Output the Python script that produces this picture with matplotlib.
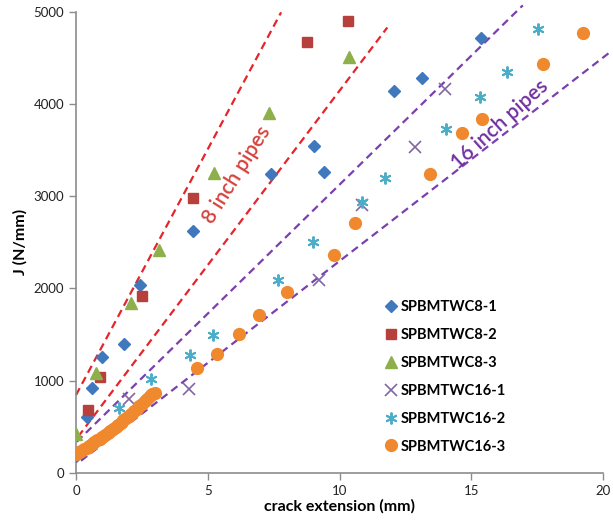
import numpy as np
import matplotlib
matplotlib.use('Agg')
import matplotlib.pyplot as plt

plt.rcParams['font.family'] = ['Lato', 'DejaVu Sans']

# data (crack extension mm, J N/mm)
c8_1_x = [0.0, 0.43, 0.6, 0.97, 1.83, 2.43, 4.45, 7.39, 9.04, 9.41, 12.07, 13.14, 15.37]
c8_1_y = [180, 604, 916, 1252, 1393, 2037, 2623, 3242, 3545, 3267, 4146, 4287, 4714]

c8_2_x = [0.47, 0.91, 2.5, 4.43, 8.78, 10.31]
c8_2_y = [685, 1042, 1917, 2978, 4674, 4905]

c8_3_x = [0.0, 0.76, 2.09, 3.16, 5.24, 7.34, 10.37]
c8_3_y = [420, 1079, 1845, 2417, 3256, 3907, 4508]

c16_1_x = [2.02, 4.3, 9.23, 10.84, 12.87, 13.98]
c16_1_y = [796, 914, 2091, 2905, 3538, 4171]

c16_2_x = [1.63, 2.83, 4.33, 5.21, 7.68, 9.0, 10.84, 11.73, 14.05, 15.33, 16.34, 17.52]
c16_2_y = [699, 1017, 1274, 1494, 2091, 2507, 2941, 3201, 3732, 4080, 4352, 4812]

c16_3_x = [0.0, 0.1, 0.2, 0.3, 0.4, 0.5, 0.6, 0.7, 0.8, 0.9, 1.0, 1.1, 1.2, 1.3, 1.4,
           1.5, 1.6, 1.7, 1.8, 1.9, 2.0, 2.1, 2.2, 2.3, 2.4, 2.5, 2.6, 2.7, 2.8, 2.9, 3.0,
           4.58, 5.34, 6.2, 6.96, 8.0, 9.79, 10.59, 13.43, 14.66, 15.4, 17.73, 19.23]
c16_3_y = [205, 220, 235, 252, 270, 290, 310, 330, 350, 371, 392, 413, 435, 456, 478,
           500, 522, 545, 568, 591, 615, 640, 665, 692, 720, 747, 775, 803, 830, 852, 870,
           1133, 1288, 1505, 1711, 1964, 2363, 2706, 3242, 3683, 3838, 4435, 4775]

# dashed guide lines: (x start, x end, intercept, slope)
red_lines = [(0.0, 7.78, 843, 534), (0.08, 11.81, 361, 378.7)]
purple_lines = [(0.03, 16.95, 328, 280), (0.19, 20.2, 88, 221)]

fig = plt.figure(figsize=(6.13, 5.21), dpi=100)
ax = fig.add_axes([0.124, 0.0927, 0.860, 0.884])

for x0, x1, b, m in red_lines:
    xs = np.array([x0, x1])
    ax.plot(xs, b + m * xs, color='#e5252b', lw=1.6, dashes=(3.5, 2.2), clip_on=False, zorder=2)
for x0, x1, b, m in purple_lines:
    xs = np.array([x0, x1])
    ax.plot(xs, b + m * xs, color='#7b3fb0', lw=1.6, dashes=(3.5, 2.2), clip_on=False, zorder=2)

ax.plot(c8_1_x, c8_1_y, 'D', color='#3f78bd', ms=6.5, mec='#3f78bd', label='SPBMTWC8-1', zorder=3)
ax.plot(c8_2_x, c8_2_y, 's', color='#b8403c', ms=7.5, label='SPBMTWC8-2', zorder=3)
ax.plot(c8_3_x, c8_3_y, '^', color='#8db04a', ms=8, label='SPBMTWC8-3', zorder=3)
ax.plot(c16_1_x, c16_1_y, 'x', color='#8166a6', ms=8, mew=1.2, label='SPBMTWC16-1', zorder=3)
ax.plot(c16_2_x, c16_2_y, marker=(6, 2, 0), ls='none', color='#4aaec8', ms=8.5, mew=1.4,
        label='SPBMTWC16-2', zorder=3)
ax.plot(c16_3_x, c16_3_y, 'o', color='#f0892e', ms=8.5, label='SPBMTWC16-3', zorder=3)

ax.text(6.1, 3230, '8 inch pipes', color='#d5433d', fontsize=15, rotation=58,
        ha='center', va='center', fontweight='semibold', zorder=4)
ax.text(16.1, 3775, '16 inch pipes', color='#7030a0', fontsize=15, rotation=42,
        ha='center', va='center', fontweight='semibold', zorder=4)

ax.set_xlim(0, 20)
ax.set_ylim(0, 5000)
ax.set_xticks([0, 5, 10, 15, 20])
ax.set_yticks([0, 1000, 2000, 3000, 4000, 5000])
for s in ['top', 'right']:
    ax.spines[s].set_visible(False)
for s in ['left', 'bottom']:
    ax.spines[s].set_color('#8c8c8c')
    ax.spines[s].set_linewidth(1.2)
ax.tick_params(direction='out', length=5, width=1, color='#8c8c8c',
               labelsize=9.5, labelcolor='#222222')

ax.set_xlabel('crack extension (mm)', fontsize=11.5, fontweight='bold', labelpad=2)
ax.set_ylabel('J (N/mm)', fontsize=11.5, fontweight='bold', labelpad=4)

leg = ax.legend(loc='upper left', bbox_to_anchor=(0.569, 0.387), frameon=False,
                prop={'weight': 'bold', 'size': 10.5}, handletextpad=0.0,
                labelspacing=0.95, handlelength=1.3, borderaxespad=0)

plt.savefig('out.png', dpi=100)
